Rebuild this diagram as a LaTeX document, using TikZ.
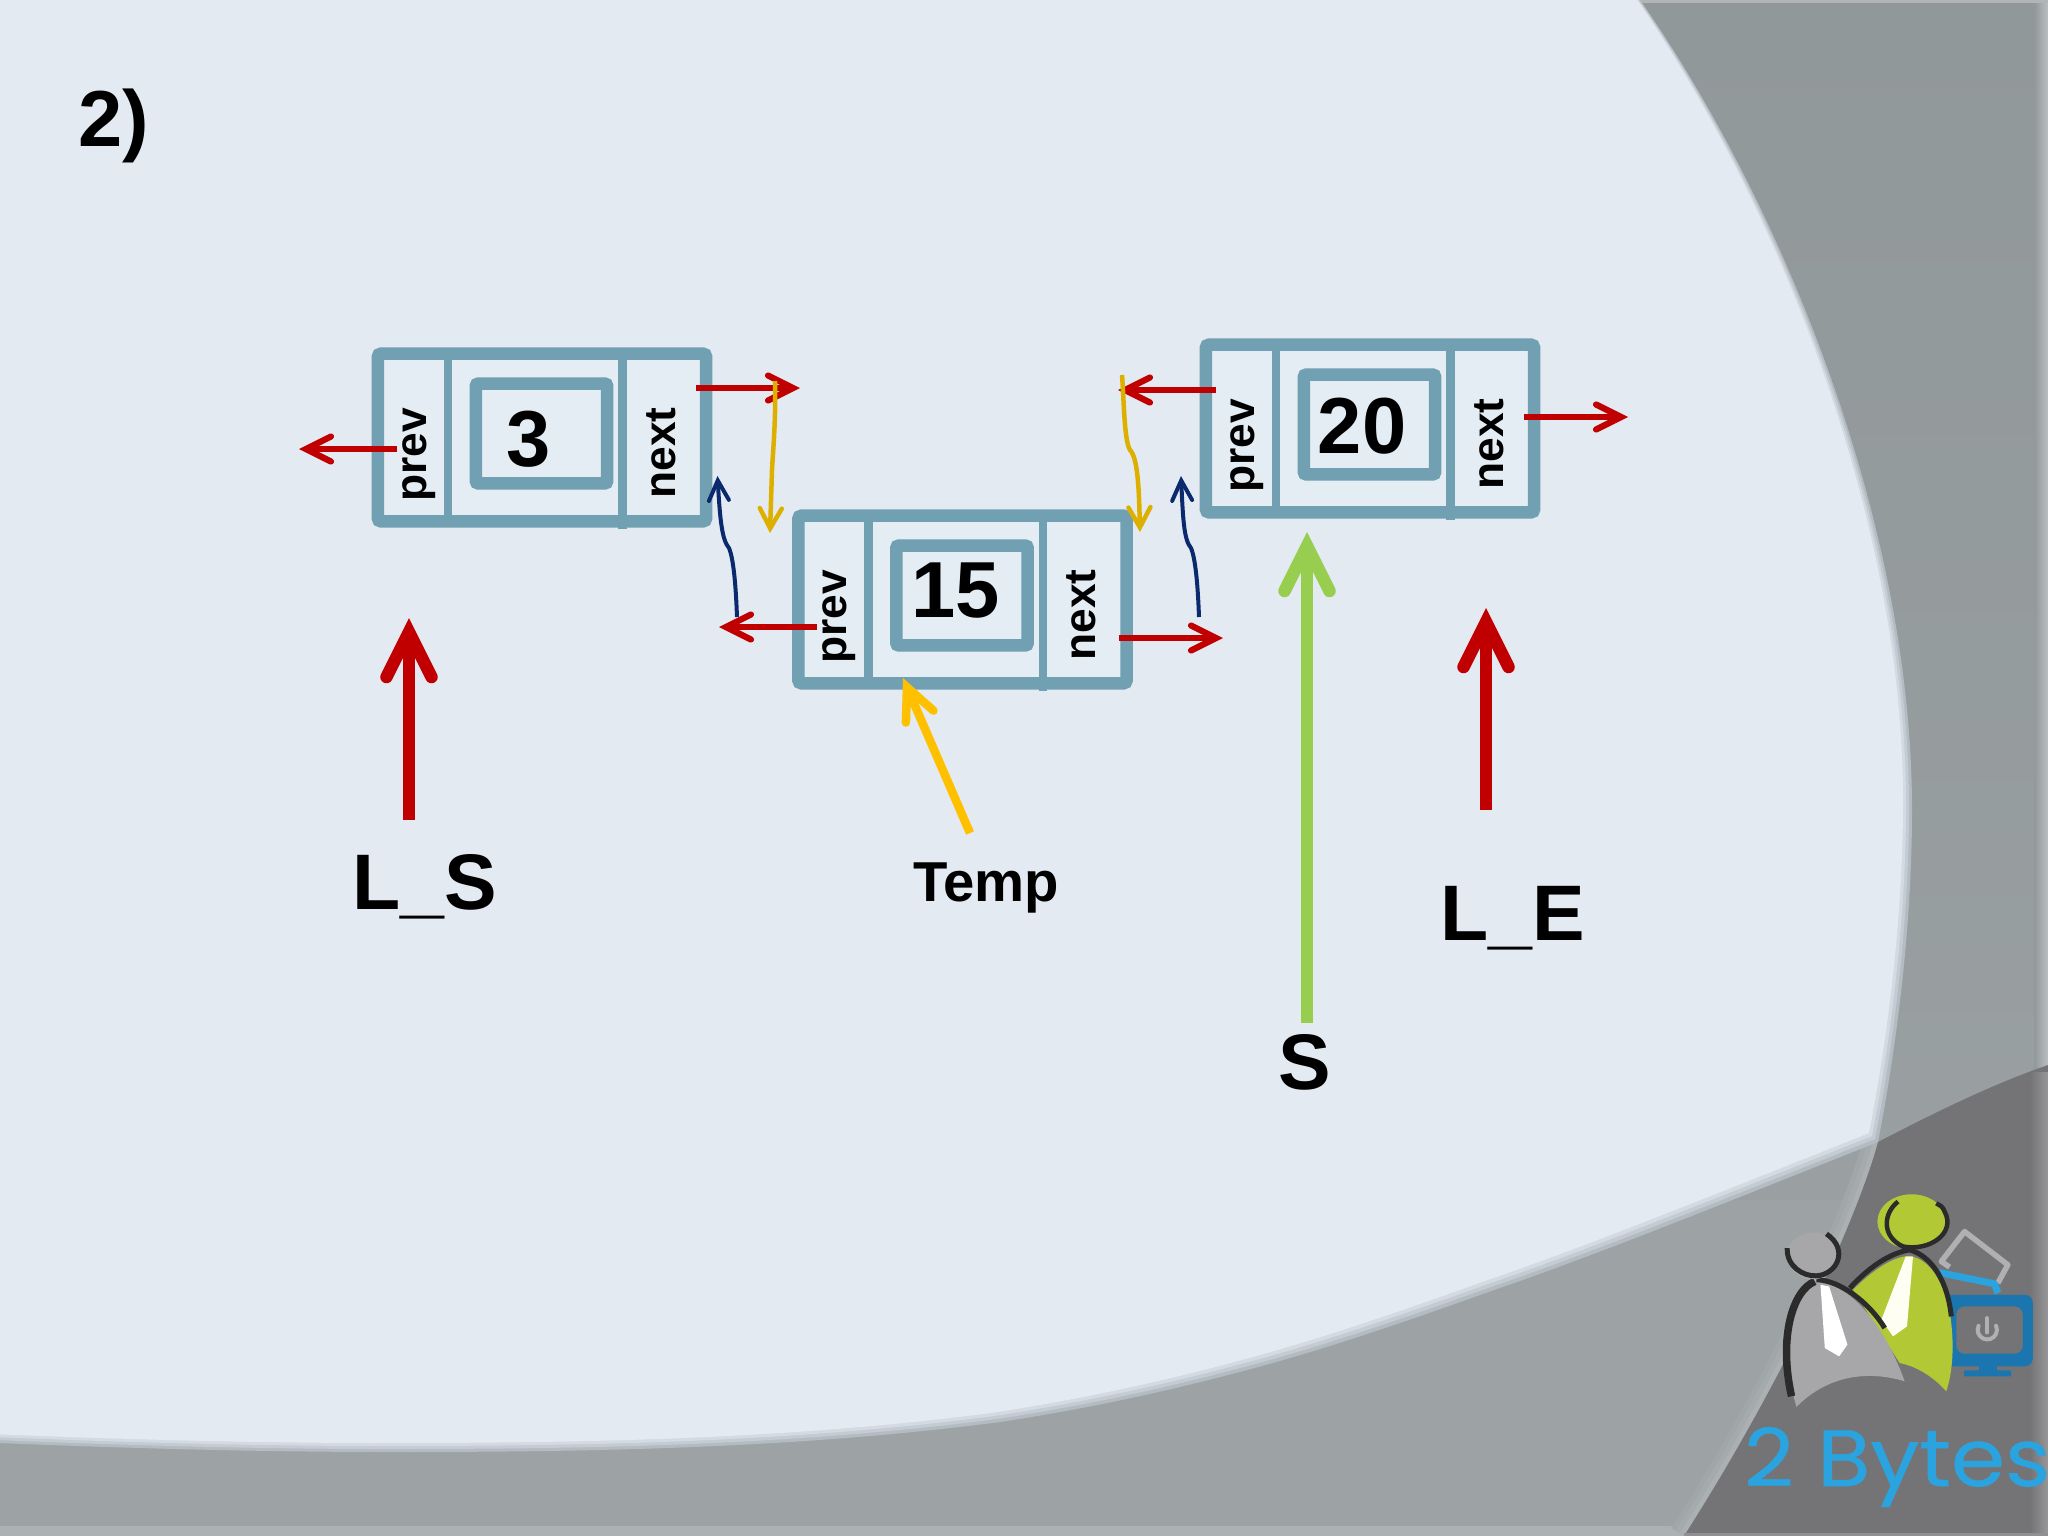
\documentclass[tikz,border=0pt]{standalone}
\usepackage{fontspec}
\usepackage{graphicx}
\setmainfont{Liberation Sans}
\newfontfamily\logofont[FakeBold=0.5]{Poppins}
\usetikzlibrary{arrows.meta,calc}
\definecolor{pagebg}{HTML}{E4EAF1}
\definecolor{grayA}{HTML}{91989A}
\definecolor{grayB}{HTML}{9DA3A5}
\definecolor{grayDark}{HTML}{747476}
\definecolor{teal}{HTML}{71A0B2}
\definecolor{cellbg}{HTML}{E3EDF3}
\definecolor{redA}{HTML}{C00000}
\definecolor{greenA}{HTML}{98CE50}
\definecolor{yellowA}{HTML}{FFC000}
\definecolor{yellowB}{HTML}{DDB000}
\definecolor{blueA}{HTML}{0B2A6E}
\definecolor{logoBlue}{HTML}{2AA3DE}
\definecolor{monBlue}{HTML}{1B75AE}
\definecolor{logoGray}{HTML}{A7A7A9}
\definecolor{logoGreen}{HTML}{B2C935}
\definecolor{logoInk}{HTML}{2B2B2B}
\newcommand{\fpx}[1]{\fontsize{#1}{#1}\selectfont\bfseries}
\newcommand{\lightshape}{(-60,-60) -- (1640,-60) -- (1640,0) .. controls (1780,200) and (1912,520) .. (1912,810)
    .. controls (1912,950) and (1890,1080) .. (1878,1142)
    .. controls (1700,1213) and (1590,1257) .. (1494,1290)
    .. controls (1410,1320) and (1330,1348) .. (1247,1370)
    .. controls (1165,1392) and (1085,1409) .. (1000,1422)
    .. controls (800,1448) and (600,1452) .. (392,1452)
    .. controls (260,1452) and (120,1448) .. (0,1443) -- (-60,1443) -- cycle}
\tikzset{
  outerbox/.style={draw=teal,line width=0.125cm,rounded corners=0.03cm,fill=cellbg,minimum width=3.28cm,minimum height=1.675cm,inner sep=0pt},
  innerbox/.style={draw=teal,line width=0.125cm,rounded corners=0.02cm,minimum width=1.31cm,minimum height=0.995cm,inner sep=0pt},
  divider/.style={draw=teal,line width=0.085cm},
  valtext/.style={inner sep=0pt,font=\fpx{22.6}},
  fieldtext/.style={inner sep=0pt,anchor=base,rotate=90,font=\fpx{12.6}},
  bigtext/.style={inner sep=0pt,anchor=base,font=\fpx{22.4}},
  thinred/.style={draw=redA,line width=0.062cm,-{Straight Barb[length=0.25cm,width=0.25cm,line cap=round,line join=miter]}},
  thickarrow/.style={line width=0.125cm,-{Straight Barb[length=0.45cm,width=0.45cm,line cap=round,line join=miter]}},
  yellowthin/.style={draw=yellowB,line width=0.045cm,-{Straight Barb[length=0.2cm,width=0.22cm,line cap=round,line join=miter]}},
  bluethin/.style={draw=blueA,line width=0.04cm,-{Straight Barb[length=0.2cm,width=0.2cm,line cap=round,line join=miter]}},
}
\begin{document}
\begin{tikzpicture}[x=0.01cm,y=-0.01cm]
\useasboundingbox (0,0) rectangle (2048,1536);
% background
\shade[top color=grayA,bottom color=grayB,middle color=grayA!60!grayB] (0,0) rectangle (2048,1536);
\fill[grayB] (0,1200) rectangle (2048,1536);
\fill[grayB!85!white] (0,1526) rectangle (2048,1536);
\shade[left color=grayA,right color=grayB!70!white] (2034,0) rectangle (2048,1072);
\fill[grayB!80!white] (1600,0) rectangle (2048,3);
% lighter band beside the dark wedge
\foreach \w/\c in {0.3/A1A7A9,0.2/A5ABAD,0.1/ABB0B2}{
  \definecolor{edgec}{HTML}{\c}
  \draw[line width=\w cm,edgec] (1878,1142) .. controls (1860,1210) and (1790,1370) .. (1684,1536);
}
\fill[grayDark] (2048,1065) .. controls (1990,1085) and (1930,1115) .. (1878,1142)
  .. controls (1860,1210) and (1790,1370) .. (1684,1536) -- (2048,1536) -- cycle;
\shade[left color=grayDark,right color=grayDark!75!white] (2030,1072) rectangle (2048,1536);
\fill[grayDark!80!white] (1684,1533) rectangle (2048,1536);
% the light field, with its soft edge
\foreach \d/\c in {0/B4BCC3,3/C4CBD2,6/D4DAE1,9/pagebg}{
  \begin{scope}[shift={(-\d,-\d)}]
    \ifnum\d=9 \fill[pagebg] \lightshape; \else
    \definecolor{edgec}{HTML}{\c}
    \fill[edgec] \lightshape; \fi
  \end{scope}
}

% title
\node[bigtext,anchor=base west,font=\fpx{22.6}] (title) at (78,146) {2)};

% list cells
\node[outerbox] (n1) at (542,437.5) {};
\draw[divider] (448,360) -- (448,516);
\draw[divider] (622.5,360) -- (622.5,529);
\node[innerbox] (n1v) at (541.5,433.5) {};
\node[valtext] (n1t) at (529,439) {3};
\node[fieldtext] (n1p) at (426,455) {prev};
\node[fieldtext] (n1n) at (675,453) {next};

\node[outerbox] (n2) at (962.5,599.5) {};
\draw[divider] (868.5,522) -- (868.5,678);
\draw[divider] (1043,522) -- (1043,691);
\node[innerbox] (n2v) at (962,595.5) {};
\node[valtext] (n2t) at (956,591) {15};
\node[fieldtext] (n2p) at (846.5,617) {prev};
\node[fieldtext] (n2n) at (1095.5,615) {next};

\node[outerbox] (n3) at (1370,428.5) {};
\draw[divider] (1276,351) -- (1276,507);
\draw[divider] (1450.5,351) -- (1450.5,520);
\node[innerbox] (n3v) at (1369.5,424.5) {};
\node[valtext] (n3t) at (1362,426) {20};
\node[fieldtext] (n3p) at (1254,446) {prev};
\node[fieldtext] (n3n) at (1503,444) {next};

% labels
\node[bigtext] (ls) at (425,909) {L\_S};
\node[bigtext] (le) at (1512.5,940) {L\_E};
\node[bigtext] (ss) at (1305,1089) {S};
\node[bigtext,font=\fpx{16}] (tmp) at (986,901) {Temp};

% free ends
\coordinate (a1s) at (397,449);  \coordinate (a1e) at (299,449);
\coordinate (a2s) at (696,388);  \coordinate (a2e) at (800,388);
\coordinate (a3s) at (817,627);  \coordinate (a3e) at (719,627);
\coordinate (a4s) at (1119,638); \coordinate (a4e) at (1223,638);
\coordinate (a5s) at (1216,390); \coordinate (a5e) at (1118,390);
\coordinate (a6s) at (1524,417); \coordinate (a6e) at (1628,417);
\coordinate (ls1) at (409,820);  \coordinate (ls2) at (409,618);
\coordinate (le1) at (1486,810); \coordinate (le2) at (1486,608);
\coordinate (ss1) at (1307,1023);\coordinate (ss2) at (1307,532);
\coordinate (tp1) at (970,833);  \coordinate (tp2) at (903,678);
\coordinate (y1s) at (775,381);  \coordinate (y1e) at (770,533);
\coordinate (y2s) at (1122,375); \coordinate (y2e) at (1140,532);
\coordinate (b1s) at (737,617);  \coordinate (b1e) at (717.5,476);
\coordinate (b2s) at (1199,617); \coordinate (b2e) at (1181,476);

\draw[thinred] (a1s) -- (a1e);
\draw[thinred] (a2s) -- (a2e);
\draw[thinred] (a3s) -- (a3e);
\draw[thinred] (a4s) -- (a4e);
\draw[thinred] (a5s) -- (a5e);
\draw[thinred] (a6s) -- (a6e);

\draw[thickarrow,draw=redA] (ls1) -- (ls2);
\draw[thickarrow,draw=redA] (le1) -- (le2);
\draw[thickarrow,draw=greenA] (ss1) -- (ss2);
\draw[draw=yellowA,line width=0.085cm,-{Straight Barb[length=0.32cm,width=0.3cm,line cap=round,line join=miter]}] (tp1) -- (tp2);

\draw[yellowthin] (y1s) .. controls (776,420) and (773,450) .. (772,470) -- (y1e);
\draw[yellowthin] (y2s) .. controls (1124,400) and (1124,440) .. (1130,450)
   .. controls (1138,458) and (1139,490) .. (y2e);
\draw[bluethin] (b1s) .. controls (736,590) and (734,560) .. (729,548)
   .. controls (722,540) and (720,520) .. (b1e);
\draw[bluethin] (b2s) .. controls (1198,590) and (1196,560) .. (1191,548)
   .. controls (1184,540) and (1183,520) .. (b2e);

% logo
\begin{scope}[shift={(1700,1150)},x=0.003333cm,y=-0.003333cm]
  % laptop
  \draw[line width=0.055cm,draw=logoGray!90!white,line join=round]
    (750,352) -- (725,335) -- (795,245) -- (925,345) -- (895,400);
  \draw[line width=0.07cm,draw=logoBlue,line join=round] (718,368) -- (885,402) -- (895,430);
  % monitor
  \fill[monBlue,rounded corners=0.08cm,even odd rule] (735,435) rectangle (1000,650)
     (770,470) rectangle (970,612);
  \fill[monBlue] (838,650) rectangle (892,665);
  \fill[monBlue,rounded corners=0.01cm] (793,662) rectangle (935,680);
  \draw[line width=0.04cm,draw=logoGray!90!white,line cap=round] (862,505) -- (862,548);
  \draw[line width=0.04cm,draw=logoGray!90!white,line cap=round] (837,528) arc[start angle=205,end angle=-25,radius=29];
  % green person
  \fill[logoGreen] (460,420) .. controls (520,360) and (580,320) .. (630,318)
     .. controls (700,330) and (745,420) .. (755,520)
     .. controls (765,610) and (755,680) .. (740,725)
     .. controls (700,680) and (650,650) .. (600,640) -- cycle;
  \draw[line width=0.05cm,logoInk] (450,415) .. controls (510,350) and (570,310) .. (630,300)
     .. controls (700,320) and (745,400) .. (755,500);
  \fill[logoGreen] (636,215) ellipse[x radius=103,y radius=82];
  \draw[line width=0.045cm,logoInk] (595,155) .. controls (550,190) and (545,260) .. (610,290)
     .. controls (690,305) and (770,250) .. (735,185) .. controls (730,170) and (720,165) .. (710,160);
  \fill[white!95!yellow] (618,320) -- (640,320) -- (622,530) -- (580,560) -- (545,510) -- cycle;
  % gray person
  \fill[logoGray] (345,398) .. controls (430,395) and (540,490) .. (615,695)
     .. controls (500,660) and (380,680) .. (290,772)
     .. controls (260,680) and (250,480) .. (345,398) -- cycle;
  \draw[line width=0.075cm,logoInk] (345,395) .. controls (280,420) and (235,560) .. (275,740);
  \draw[line width=0.05cm,logoInk] (350,390) .. controls (420,390) and (510,460) .. (555,535);
  \fill[logoGray] (340,318) ellipse[x radius=80,y radius=70];
  \draw[line width=0.05cm,logoInk] (262,295) .. controls (260,350) and (310,380) .. (350,378)
     .. controls (410,375) and (450,300) .. (380,252);
  \fill[white] (362,405) -- (388,410) -- (443,585) -- (418,620) -- (375,595) -- cycle;
  % logo text
  \node[inner sep=0pt,anchor=base west,text=logoBlue] (brand) at (130,1010)
     {\scalebox{1.03}[0.95]{\logofont\fontsize{24}{24}\selectfont 2 Bytes}};
\end{scope}
\end{tikzpicture}
\end{document}
